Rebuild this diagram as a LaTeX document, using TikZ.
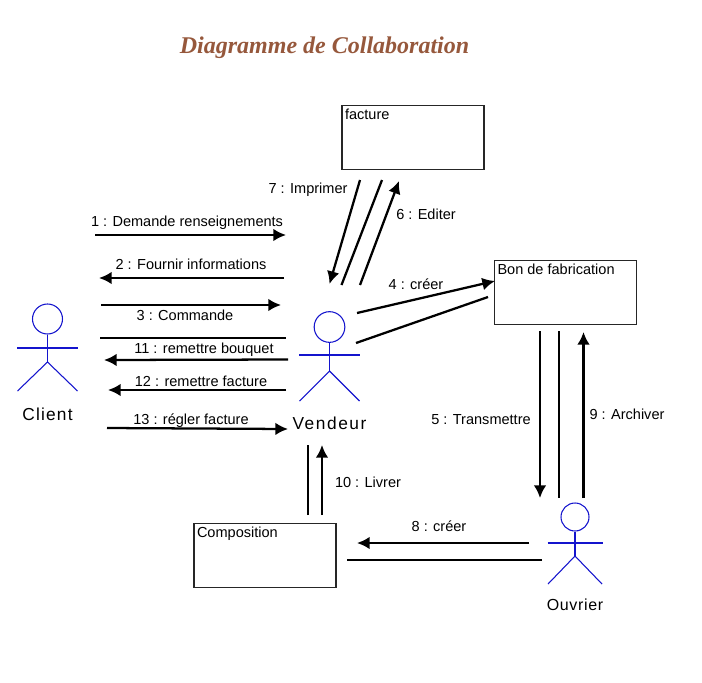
\documentclass[tikz,border=0pt]{standalone}
\usepackage{fontspec}
\setmainfont{Liberation Sans}
\newfontfamily\titlefont{Liberation Serif}
\usetikzlibrary{arrows.meta}
\definecolor{titlebrown}{RGB}{150,88,60}
\definecolor{actorblue}{RGB}{20,20,205}

\begin{document}
\begin{tikzpicture}[x=0.75pt, y=-0.75pt, font=\fontsize{10.9}{13}\selectfont]
	\tikzstyle{msg}=[line width=1.7pt, black]
	\tikzstyle{msg tip}=[msg, -{Latex[length=9.5pt, width=9.5pt]}]
	\tikzstyle{objet}=[rectangle, draw=black!85, line width=0.9pt, minimum width=106.5pt, minimum height=48.5pt, inner sep=0pt]
	\tikzstyle{objet name}=[anchor=north west, inner sep=0pt, xshift=2.5pt, yshift=-3pt]
	\tikzstyle{head}=[circle, draw=actorblue, line width=0.8pt, inner sep=0pt]
	\tikzstyle{limb}=[draw=actorblue, line width=0.8pt]

	\useasboundingbox (0,0) rectangle (702,682);

	% Title
	\node[text=titlebrown, font=\titlefont\fontsize{18}{21}\selectfont\bfseries\itshape] (title) at (324.5,47.5) {Diagramme de Collaboration};

	% Draw the objects
	\node[objet, label={[objet name]north west:facture}] (facture) at (413,137.5) {};
	\node[objet, label={[objet name]north west:Bon de fabrication}] (bon) at (565.5,292.5) {};
	\node[objet, label={[objet name]north west:Composition}] (compo) at (265,555.5) {};

	% Draw the actors: name, head centre, arm y, half arm, hip y, half leg, foot y, label y, head size, label size, spacing
	\foreach \name/\x/\y/\arm/\armw/\hip/\leg/\foot/\laby/\size/\fs/\sp in {
		Client/47.5/319/348/30.5/362/30/391/414/22.5/13/7,
		Vendeur/329.5/327/355/30.5/371/30/401/423/23/13/9,
		Ouvrier/575/517/543/27.5/556/27/584/605/21/12/4} {
		\node[head, minimum size=\size pt] (\name-head) at (\x,\y) {};
		\coordinate (\name-hip) at (\x,\hip);
		\coordinate (\name-armL) at (\x-\armw,\arm);
		\coordinate (\name-armR) at (\x+\armw,\arm);
		\coordinate (\name-footL) at (\x-\leg,\foot);
		\coordinate (\name-footR) at (\x+\leg,\foot);
		\draw[limb] (\name-head) -- (\name-hip);
		\draw[limb] (\name-armL) -- (\name-armR);
		\draw[limb] (\name-footL) -- (\name-hip) -- (\name-footR);
		\node[font=\fontsize{\fs}{15}\selectfont\addfontfeatures{LetterSpace=\sp}] (\name-label) at (\x,\laby) {\name};
	}

	% Arrows with a tip
	\foreach \msgname/\xa/\ya/\xb/\yb in {
		m1/95/235/286/235, m2/284/278/99/278, m3/101/305/281/305,
		m11/288/359.5/104/360, m12/286/390/108/390, m13/107/428/288/429,
		m7/360/180/329.5/284, m6/360/285/399/181, m4/357/313/495/281,
		m5/540/331/540/498, m9/583.5/498/583.5/332, m8/529/543/357/543,
		m10/322/515/322/445} {
		\coordinate (\msgname-s) at (\xa,\ya);
		\coordinate (\msgname-e) at (\xb,\yb);
		\draw[msg tip] (\msgname-s) -- (\msgname-e);
	}

	% Plain lines next to the arrows
	\foreach \msgname/\xa/\ya/\xb/\yb in {
		n1/100/338/286/338, n2/382/180/341.5/285, n3/356/343/488/297,
		n4/559/331/559/498, n5/542/560/347/560, n6/308/515/308/445} {
		\coordinate (\msgname-s) at (\xa,\ya);
		\coordinate (\msgname-e) at (\xb,\yb);
		\draw[msg] (\msgname-s) -- (\msgname-e);
	}

	% Annotate the messages
	\node (l1) at (187,222.5) {1 : Demande renseignements};
	\node (l2) at (191,264.5) {2 : Fournir informations};
	\node (l3) at (185,315.5) {3 : Commande};
	\node (l4) at (416,284) {4 : créer};
	\node (l5) at (481,420) {5 : Transmettre};
	\node (l6) at (426,214.5) {6 : Editer};
	\node (l7) at (308,189.5) {7 : Imprimer};
	\node (l8) at (439,526) {8 : créer};
	\node (l9) at (627,414) {9 : Archiver};
	\node (l10) at (368,482) {10 : Livrer};
	\node (l11) at (204,350) {11 : remettre bouquet};
	\node (l12) at (201,381) {12 : remettre facture};
	\node (l13) at (191,420.5) {13 : régler facture};
\end{tikzpicture}
\end{document}
